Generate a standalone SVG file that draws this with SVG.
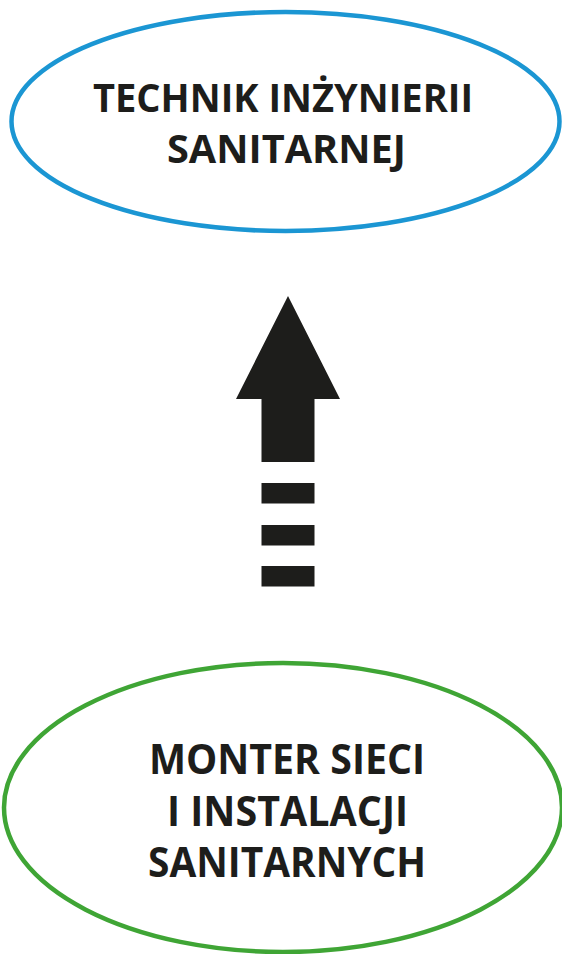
<svg xmlns="http://www.w3.org/2000/svg" width="562" height="954" viewBox="0 0 562 954">
<style>
.lbl{font-family:"Open Sans","Liberation Sans",sans-serif;font-weight:bold;font-size:39px;fill:#1d1d1b;text-anchor:middle}
.big{font-size:41px}
.node{fill:#fff;stroke-width:4.5}
</style>
<rect width="562" height="954" fill="#fff"/>
<g id="node-technik">
<ellipse class="node" cx="285.5" cy="121.5" rx="274" ry="109.5" stroke="#1b96d3"/>
<text class="lbl" x="283" y="112" textLength="380" lengthAdjust="spacingAndGlyphs">TECHNIK INŻYNIERII</text>
<text class="lbl" x="286.5" y="163" textLength="239" lengthAdjust="spacingAndGlyphs">SANITARNEJ</text>
</g>
<g id="node-monter">
<ellipse class="node" cx="283" cy="807.5" rx="279" ry="144.5" stroke="#3fa535"/>
<text class="lbl big" x="287" y="774" textLength="276" lengthAdjust="spacingAndGlyphs">MONTER SIECI</text>
<text class="lbl big" x="287.5" y="826" textLength="241" lengthAdjust="spacingAndGlyphs">I INSTALACJI</text>
<text class="lbl big" x="287" y="877" textLength="278" lengthAdjust="spacingAndGlyphs">SANITARNYCH</text>
</g>
<g id="connectors" fill="#1d1d1b">
<polygon points="288,296 340,399 314.5,399 314.5,462 261.5,462 261.5,399 236,399"/>
<rect x="261.5" y="483" width="53" height="20.5"/>
<rect x="261.5" y="525" width="53" height="20.5"/>
<rect x="261.5" y="566" width="53" height="20.5"/>
</g>
</svg>
